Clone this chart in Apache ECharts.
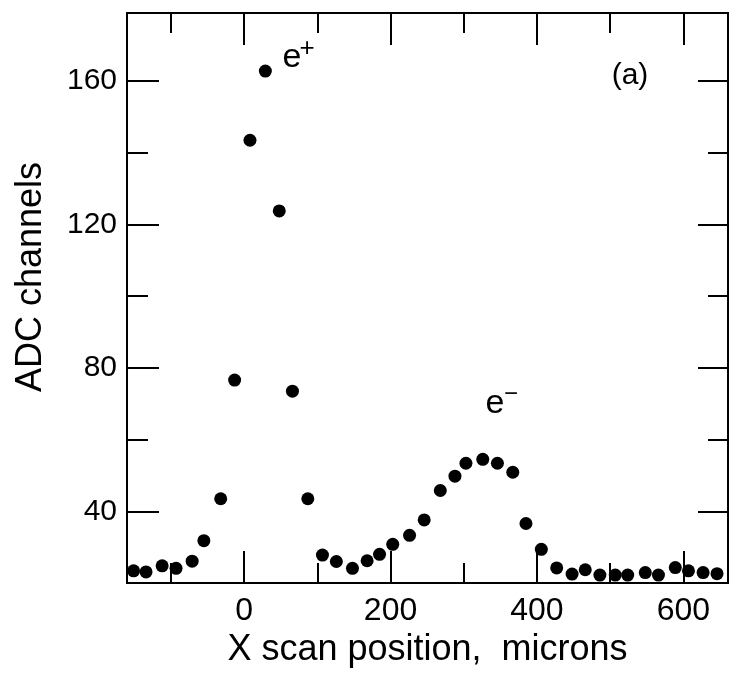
<!DOCTYPE html>
<html>
<head>
<meta charset="utf-8">
<script src="https://cdn.jsdelivr.net/npm/echarts@6/dist/echarts.min.js"></script>
<style>
  html, body { margin: 0; padding: 0; background: #fff; }
  #chart { width: 730px; height: 677px; }
</style>
</head>
<body>
<div id="chart"></div>
<script>
// scan positions (microns) and pulse heights (ADC channels)
var xPos = [-151, -134, -112, -93, -71, -55, -32, -13, 8, 29, 48, 66, 87, 107, 126, 148, 168, 185, 203, 226,
            246, 268, 288, 303, 326, 346, 367, 385, 406, 427, 448, 466, 486, 507, 524, 548, 566, 589, 607, 627, 646];
var adc = [23.4, 23.1, 24.8, 24.1, 26.1, 31.8, 43.5, 76.6, 143.5, 162.8, 123.8, 73.5, 43.5, 27.8, 26, 24.1, 26.2, 28, 30.8, 33.3,
           37.6, 45.8, 49.8, 53.4, 54.5, 53.4, 50.9, 36.6, 29.4, 24.2, 22.5, 23.7, 22.2, 22.2, 22.2, 22.9, 22.2, 24.3, 23.4, 22.9, 22.6];

var xMajor = [0, 200, 400, 600];
var xMinor = [-100, 100, 300, 500];
var yMajor = [40, 80, 120, 160];
var yMinor = [60, 100, 140];

var font = "'Liberation Sans', Arial, sans-serif";
var points = xPos.map(function (x, i) { return [x, adc[i]]; });

function xAxisDef(pos, ticks, len, labels) {
    return {
        type: 'value', min: -160, max: 661, position: pos,
        axisLine: { show: true, onZero: false, lineStyle: { color: '#000', width: 2 } },
        axisTick: { show: true, inside: true, length: len, customValues: ticks, lineStyle: { color: '#000', width: 2 } },
        axisLabel: labels ? { show: true, customValues: ticks, fontSize: 32, color: '#000', fontFamily: font, margin: 12 } : { show: false },
        splitLine: { show: false }
    };
}

function yAxisDef(pos, ticks, len, labels) {
    return {
        type: 'value', min: 20, max: 179, position: pos,
        axisLine: { show: true, onZero: false, lineStyle: { color: '#000', width: 2 } },
        axisTick: { show: true, inside: true, length: len, customValues: ticks, lineStyle: { color: '#000', width: 2 } },
        axisLabel: labels ? { show: true, customValues: ticks, fontSize: 30, color: '#000', fontFamily: font, margin: 10 } : { show: false },
        splitLine: { show: false }
    };
}

var xMain = xAxisDef('bottom', xMajor, 32, true);
xMain.name = 'X scan position,  microns';
xMain.nameLocation = 'middle';
xMain.nameGap = 47;
xMain.nameTextStyle = { fontSize: 36, color: '#000', fontFamily: font };

var yMain = yAxisDef('left', yMajor, 32, true);
yMain.name = 'ADC channels';
yMain.nameLocation = 'middle';
yMain.nameGap = 78;
yMain.nameTextStyle = { fontSize: 36, color: '#000', fontFamily: font, padding: [0, 0, 0, 42] };

var myChart = echarts.init(document.getElementById('chart'));
var option = {
    backgroundColor: '#fff',
    animation: false,
    grid: { left: 127, right: 2, top: 13, bottom: 94 },
    xAxis: [
        xMain,
        xAxisDef('bottom', xMinor, 20, false),
        xAxisDef('top', xMajor, 32, false),
        xAxisDef('top', xMinor, 20, false)
    ],
    yAxis: [
        yMain,
        yAxisDef('left', yMinor, 21, false),
        yAxisDef('right', yMajor, 30, false),
        yAxisDef('right', yMinor, 20, false)
    ],
    series: [
        {
            type: 'scatter',
            xAxisIndex: 0,
            yAxisIndex: 0,
            symbol: 'circle',
            symbolSize: 13,
            itemStyle: { color: '#000', opacity: 1 },
            data: points
        }
    ],
    graphic: [
        { type: 'text', x: 292, y: 58, style: { text: 'e', fontSize: 34, fontFamily: font, fill: '#000', align: 'center', verticalAlign: 'middle' } },
        { type: 'text', x: 307, y: 49, style: { text: '+', fontSize: 26, fontFamily: font, fill: '#000', align: 'center', verticalAlign: 'middle' } },
        { type: 'text', x: 495, y: 404, style: { text: 'e', fontSize: 34, fontFamily: font, fill: '#000', align: 'center', verticalAlign: 'middle' } },
        { type: 'text', x: 511, y: 394, style: { text: '\u2212', fontSize: 24, fontFamily: font, fill: '#000', align: 'center', verticalAlign: 'middle' } },
        { type: 'text', x: 630, y: 76, style: { text: '(a)', fontSize: 30, fontFamily: font, fill: '#000', align: 'center', verticalAlign: 'middle' } }
    ]
};
myChart.setOption(option);
</script>
</body>
</html>
